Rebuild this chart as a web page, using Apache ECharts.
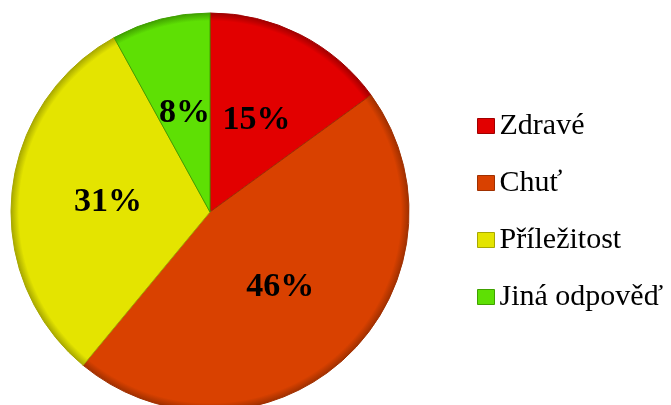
<!DOCTYPE html>
<html>
<head>
<meta charset="utf-8">
<script src="https://cdn.jsdelivr.net/npm/echarts@6/dist/echarts.min.js"></script>
<style>
  html, body { margin: 0; padding: 0; background: #ffffff; }
  #chart { width: 671px; height: 405px; }
</style>
</head>
<body>
<div id="chart"></div>
<script>
// Survey answers and their shares (percent)
const categories = ['Zdravé', 'Chuť', 'Příležitost', 'Jiná odpověď'];
const values = [15, 46, 31, 8];
const colors = ['#e20000', '#d94100', '#e4e400', '#5ee004'];
const edgeColors = ['#a00000', '#a03000', '#a8a800', '#40a000'];

const CX = 210, CY = 212, R = 199;
const chart = echarts.init(document.getElementById('chart'));

chart.setOption({
  animation: false,
  legend: {
    orient: 'vertical',
    left: 477,
    top: 111,
    padding: 0,
    icon: 'rect',
    itemWidth: 17,
    itemHeight: 15,
    itemGap: 27,
    data: categories.map((name, i) => ({
      name: name,
      itemStyle: { color: colors[i], borderColor: edgeColors[i], borderWidth: 1 }
    })),
    textStyle: {
      fontFamily: 'Liberation Serif',
      fontSize: 30,
      color: '#000'
    }
  },
  series: [{
    type: 'pie',
    center: [CX, CY],
    radius: [0, R],
    startAngle: 90,
    clockwise: true,
    data: categories.map((name, i) => ({
      name: name,
      value: values[i],
      itemStyle: {
        // soft darker rim around the whole disc
        color: {
          type: 'radial', x: CX, y: CY, r: R, global: true,
          colorStops: [
            { offset: 0, color: colors[i] },
            { offset: 0.96, color: colors[i] },
            { offset: 1, color: edgeColors[i] }
          ]
        },
        borderColor: edgeColors[i],
        borderWidth: 1
      }
    })),
    label: {
      show: true,
      position: 'inside',
      formatter: '{c}%',
      fontFamily: 'Liberation Serif',
      fontWeight: 'bold',
      fontSize: 34,
      color: '#000'
    },
    labelLine: { show: false }
  }]
});
</script>
</body>
</html>
